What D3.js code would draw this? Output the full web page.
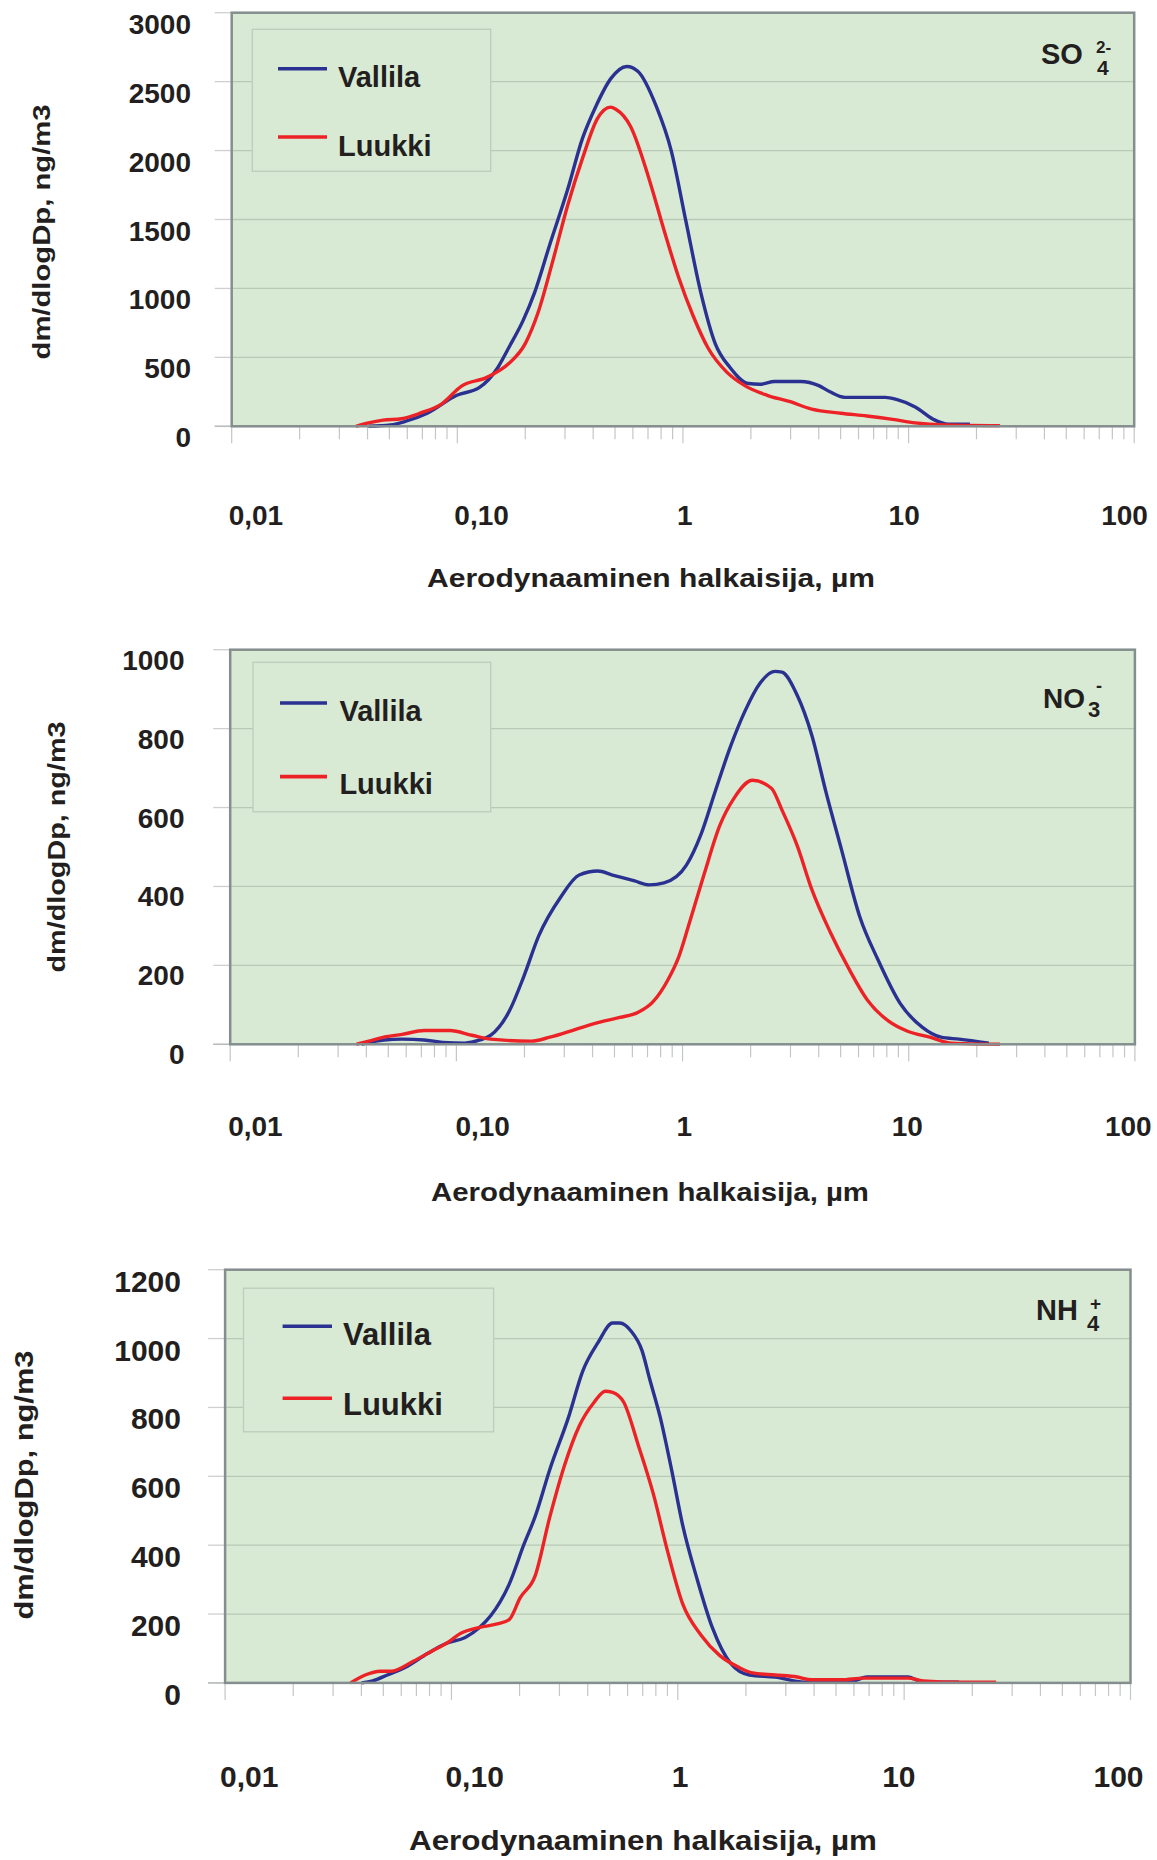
<!DOCTYPE html>
<html><head><meta charset="utf-8">
<script src="https://cdn.jsdelivr.net/npm/d3@7"></script>
<style>
body{margin:0;background:#fff}
svg{display:block}
text{font-family:"Liberation Sans",Arial,sans-serif;font-weight:bold;fill:#231f20}
</style>
</head><body>
<svg id="c" width="1157" height="1860"></svg>
<script>
// ---------- data ----------
const seriesNames = ["Vallila", "Luukki"];
const seriesColors = ["#2b3191", "#ed2227"];
const xTickValues = [0.01, 0.1, 1, 10, 100];
const xTickLabels = ["0,01", "0,10", "1", "10", "100"];
const xTitle = "Aerodynaaminen halkaisija, µm";
const yTitle = "dm/dlogDp,  ng/m3";

const so4Ticks = [0, 500, 1000, 1500, 2000, 2500, 3000];
const no3Ticks = [0, 200, 400, 600, 800, 1000];
const nh4Ticks = [0, 200, 400, 600, 800, 1000, 1200];

// SO4 2-
const so4VallilaD = [0.0404,0.0506,0.0587,0.0736,0.0995,0.125,0.151,0.169,0.196,0.220,0.256,0.308,0.359,0.411,0.478,0.564,0.631,0.762,0.887,1.03,1.20,1.39,1.62,1.95,2.19,2.55,3.32,4.00,4.48,5.21,7.89,8.83,10.7,12.9,15.0,18.7];
const so4VallilaV = [0,10,35,95,225,280,425,570,770,970,1310,1715,2090,2320,2520,2610,2575,2320,2000,1490,970,600,425,310,305,325,325,295,250,210,210,195,140,50,15,15];
const so4LuukkiD = [0.0355,0.0404,0.0469,0.0566,0.0684,0.0857,0.104,0.135,0.169,0.200,0.228,0.265,0.308,0.359,0.417,0.478,0.504,0.586,0.706,0.822,0.955,1.11,1.29,1.56,1.88,2.36,2.96,3.72,5.01,6.53,8.51,10.7,14.4,25.4];
const so4LuukkiV = [0,25,45,55,95,165,290,355,455,600,825,1200,1600,1945,2230,2315,2300,2175,1800,1430,1085,800,570,395,295,225,180,125,95,75,50,25,10,5];

// NO3 -
const no3VallilaD = [0.0381,0.0410,0.0478,0.0575,0.0721,0.0871,0.109,0.127,0.142,0.171,0.199,0.231,0.290,0.349,0.422,0.490,0.614,0.713,0.828,1.04,1.21,1.40,1.63,1.89,2.20,2.56,2.75,3.21,3.72,4.33,5.04,6.07,7.33,9.18,11.5,13.9,16.7,22.6];
const no3VallilaV = [0,5,11,13,11,5,3,11,23,83,173,274,374,429,439,429,414,404,409,454,534,644,755,845,915,945,943,885,785,634,494,324,213,103,43,18,13,3];
const no3LuukkiD = [0.0361,0.0410,0.0478,0.0575,0.0721,0.0938,0.117,0.142,0.214,0.259,0.337,0.422,0.528,0.637,0.741,0.861,0.964,1.08,1.25,1.46,1.69,2.04,2.47,2.75,3.21,3.72,4.50,5.42,6.55,8.18,9.89,12.4,15.5,25.3];
const no3LuukkiV = [0,8,18,25,35,35,23,13,8,18,38,55,68,81,108,163,223,314,434,554,624,669,649,594,504,394,284,193,113,58,33,18,3,0];

// NH4 +
const nh4VallilaD = [0.0401,0.0449,0.0521,0.0630,0.0787,0.0951,0.115,0.133,0.149,0.180,0.209,0.234,0.272,0.328,0.381,0.444,0.515,0.555,0.621,0.695,0.750,0.838,0.938,1.05,1.22,1.42,1.71,2.07,2.69,3.62,5.69,6.85,10.4,11.6,13.0,17.5];
const nh4VallilaV = [0,6,23,46,86,115,132,161,195,287,402,482,620,769,907,988,1045,1045,1022,965,884,769,620,459,299,161,57,23,17,2,2,17,17,6,2,2];
const nh4LuukkiD = [0.0358,0.0416,0.0484,0.0541,0.0678,0.0818,0.0951,0.110,0.133,0.161,0.180,0.201,0.234,0.272,0.316,0.367,0.427,0.478,0.515,0.577,0.670,0.778,0.904,1.05,1.27,1.53,1.85,2.14,2.69,3.37,3.91,5.27,6.61,10.4,12.1,17.5,25.5];
const nh4LuukkiV = [0,23,34,34,63,92,115,144,161,172,184,247,310,482,632,746,815,847,844,815,689,551,379,230,138,80,46,29,23,17,9,9,14,14,6,2,2];

// ---------- layout ----------
const panels = [
  {ticks: so4Ticks, series: [[so4VallilaD, so4VallilaV], [so4LuukkiD, so4LuukkiV]],
   L: 231.7, R: 1134.2, T: 12.7, B: 426.3,
   yLab: {x: 191, f: 28, dy: 21},
   xLab: {y: 525, f: 28, nudge: [-3, -3, -6, -20, -33]},
   xT: {x: 651, y: 587, f: 26, len: 448},
   yT: {x: 50, y: 232, f: 23, len: 255},
   leg: {x0: 252.3, y0: 29.3, x1: 490.7, y1: 171.3, lx0: 278, lx1: 327, ly: [68.7, 137], tx: 338, ty: [87.3, 156], f: 29},
   species: [{t: "SO", x: 1041, y: 64, f: 29}, {t: "2-", x: 1096, y: 53, f: 17}, {t: "4", x: 1097, y: 75, f: 21}]},
  {ticks: no3Ticks, series: [[no3VallilaD, no3VallilaV], [no3LuukkiD, no3LuukkiV]],
   L: 230.2, R: 1134.9, T: 649.7, B: 1044.3,
   yLab: {x: 184.5, f: 28, dy: 20},
   xLab: {y: 1136, f: 28, nudge: [-2, -1, -6, -17, -30]},
   xT: {x: 650, y: 1201, f: 25, len: 438},
   yT: {x: 65, y: 847, f: 23, len: 251},
   leg: {x0: 253, y0: 662.3, x1: 490.7, y1: 811.8, lx0: 280, lx1: 327, ly: [703, 776.6], tx: 339.4, ty: [720.8, 794], f: 29},
   species: [{t: "NO", x: 1043, y: 708, f: 28}, {t: "-", x: 1096, y: 692, f: 18}, {t: "3", x: 1088, y: 717, f: 22}]},
  {ticks: nh4Ticks, series: [[nh4VallilaD, nh4VallilaV], [nh4LuukkiD, nh4LuukkiV]],
   L: 225.1, R: 1130.5, T: 1269.7, B: 1682.9,
   yLab: {x: 181, f: 30, dy: 22},
   xLab: {y: 1787, f: 30, nudge: [-5, -6, -6, -22, -37]},
   xT: {x: 643, y: 1850, f: 28, len: 468},
   yT: {x: 33, y: 1485, f: 25, len: 269},
   leg: {x0: 243.5, y0: 1288.2, x1: 493.6, y1: 1431.8, lx0: 282.6, lx1: 332, ly: [1326.2, 1398.2], tx: 343, ty: [1344.8, 1414.8], f: 31},
   species: [{t: "NH", x: 1036, y: 1320, f: 29}, {t: "+", x: 1090, y: 1310, f: 19}, {t: "4", x: 1087, y: 1331, f: 22}]}
];

const svg = d3.select("#c");
const BG = "#d8ead4";

panels.forEach(p => {
  const g = svg.append("g");
  const x = d3.scaleLog().domain([0.01, 100]).range([p.L, p.R]);
  const yMax = p.ticks[p.ticks.length - 1];
  const y = d3.scaleLinear().domain([0, yMax]).range([p.B, p.T]);

  // plot background
  g.append("rect").attr("x", p.L).attr("y", p.T).attr("width", p.R - p.L).attr("height", p.B - p.T).attr("fill", BG);

  // gridlines: outer stub + inner line
  p.ticks.forEach(t => {
    g.append("line").attr("x1", p.L - 17).attr("x2", p.L).attr("y1", y(t)).attr("y2", y(t))
      .attr("stroke", "#cfcfcf").attr("stroke-width", 1.3);
    if (t > 0 && t < yMax) {
      g.append("line").attr("x1", p.L).attr("x2", p.R).attr("y1", y(t)).attr("y2", y(t))
        .attr("stroke", "#b8c9b6").attr("stroke-width", 1.3);
    }
  });

  // y tick labels
  g.selectAll("text.ylab").data(p.ticks).enter().append("text")
    .attr("class", "ylab").attr("x", p.yLab.x).attr("y", d => y(d) + p.yLab.dy)
    .attr("text-anchor", "end").attr("font-size", p.yLab.f).text(d => d);

  // x ticks (log minor/major)
  const tickVals = [];
  [0.01, 0.1, 1, 10].forEach(d => { for (let k = 1; k <= 9; k++) tickVals.push({v: d * k, major: k === 1}); });
  tickVals.push({v: 100, major: true});
  tickVals.forEach(tk => {
    g.append("line").attr("x1", x(tk.v)).attr("x2", x(tk.v)).attr("y1", p.B + 1).attr("y2", p.B + (tk.major ? 17 : 13))
      .attr("stroke", "#c4c6c6").attr("stroke-width", 1.2);
  });

  // x tick labels
  xTickValues.forEach((v, i) => {
    g.append("text").attr("x", x(v) + p.xLab.nudge[i]).attr("y", p.xLab.y)
      .attr("font-size", p.xLab.f).attr("text-anchor", "start").text(xTickLabels[i]);
  });

  // legend box
  g.append("rect").attr("x", p.leg.x0).attr("y", p.leg.y0).attr("width", p.leg.x1 - p.leg.x0).attr("height", p.leg.y1 - p.leg.y0)
    .attr("fill", BG).attr("stroke", "#bdcdbb").attr("stroke-width", 1.3);
  seriesNames.forEach((name, i) => {
    g.append("line").attr("x1", p.leg.lx0).attr("x2", p.leg.lx1).attr("y1", p.leg.ly[i]).attr("y2", p.leg.ly[i])
      .attr("stroke", seriesColors[i]).attr("stroke-width", 3.6);
    g.append("text").attr("x", p.leg.tx).attr("y", p.leg.ty[i]).attr("font-size", p.leg.f).text(name);
  });

  // data lines
  const line = d3.line().x(d => x(d[0])).y(d => y(d[1])).curve(d3.curveMonotoneX);
  p.series.forEach((s, i) => {
    const pts = s[0].map((d, j) => [d, s[1][j]]);
    g.append("path").datum(pts).attr("d", line).attr("fill", "none")
      .attr("stroke", seriesColors[i]).attr("stroke-width", 3.4).attr("stroke-linejoin", "round");
  });

  // baseline stub and plot frame
  g.append("line").attr("x1", p.L - 17).attr("x2", p.L).attr("y1", p.B).attr("y2", p.B).attr("stroke", "#b9bcbc").attr("stroke-width", 1.5);
  g.append("rect").attr("x", p.L).attr("y", p.T).attr("width", p.R - p.L).attr("height", p.B - p.T)
    .attr("fill", "none").attr("stroke", "#858e8e").attr("stroke-width", 2.5);

  // species label
  p.species.forEach(s => {
    g.append("text").attr("x", s.x).attr("y", s.y).attr("font-size", s.f).text(s.t);
  });

  // axis titles
  g.append("text").attr("x", p.xT.x).attr("y", p.xT.y).attr("text-anchor", "middle")
    .attr("font-size", p.xT.f).attr("textLength", p.xT.len).attr("lengthAdjust", "spacingAndGlyphs").text(xTitle);
  g.append("text").attr("transform", `translate(${p.yT.x},${p.yT.y}) rotate(-90)`).attr("text-anchor", "middle")
    .attr("font-size", p.yT.f).attr("textLength", p.yT.len).attr("lengthAdjust", "spacingAndGlyphs").text(yTitle);
});
</script>
</body></html>
